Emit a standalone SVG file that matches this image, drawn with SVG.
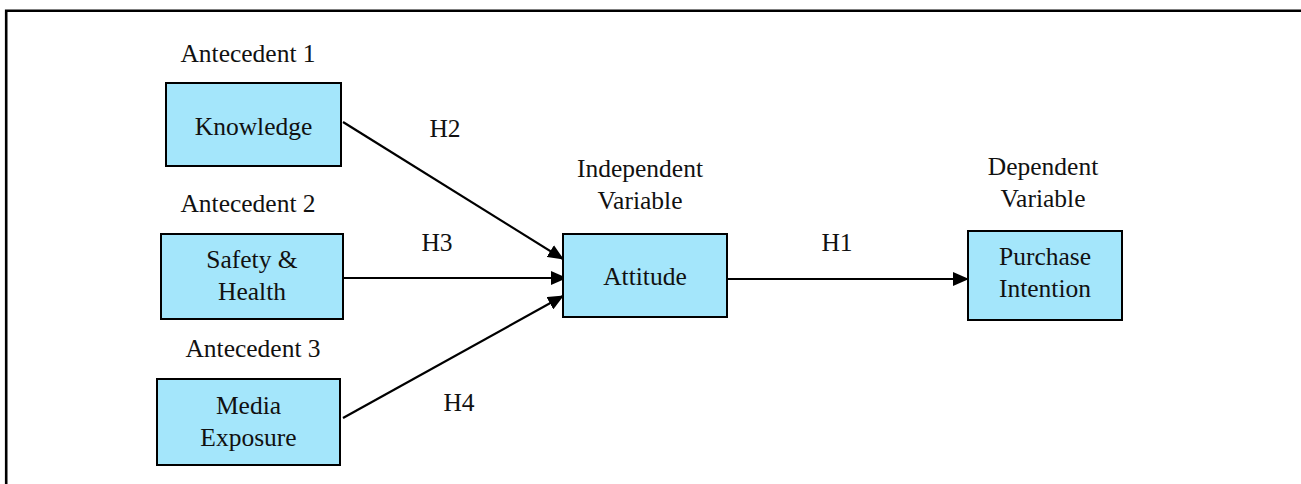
<svg xmlns="http://www.w3.org/2000/svg" width="1301" height="484" viewBox="0 0 1301 484" font-family="Liberation Serif, Times New Roman, serif">
<style>
.box{fill:#A4E6FB;stroke:#000;stroke-width:2}
text{font-family:"Liberation Serif",serif;font-size:25.5px;fill:#111;text-anchor:middle}
.c{stroke:#000;stroke-width:2.2;fill:none;marker-end:url(#ah)}
</style>
<defs>
<marker id="ah" markerUnits="userSpaceOnUse" markerWidth="16" markerHeight="14" refX="15" refY="7" orient="auto">
<path d="M0,0 L16,7 L0,14 z" fill="#000"/>
</marker>
</defs>
<rect width="1301" height="484" fill="#fff"/>
<path d="M6.2,484 V10.7 H1301" fill="none" stroke="#000" stroke-width="2.6"/>
<g id="connectors">
<line class="c" x1="343" y1="122" x2="563" y2="259"/>
<line class="c" x1="342" y1="278" x2="566" y2="278"/>
<line class="c" x1="343" y1="418" x2="563" y2="296"/>
<line class="c" x1="727" y1="279" x2="968" y2="279"/>
<text x="445" y="137">H2</text>
<text x="437" y="251">H3</text>
<text x="459" y="411">H4</text>
<text x="837" y="251">H1</text>
</g>
<g id="knowledge">
<text x="248" y="62">Antecedent 1</text>
<rect class="box" x="166" y="83" width="175" height="83"/>
<text x="253.5" y="135">Knowledge</text>
</g>
<g id="safety">
<text x="248" y="212">Antecedent 2</text>
<rect class="box" x="161" y="234" width="182" height="85"/>
<text x="252" y="268">Safety &amp;</text>
<text x="252" y="300">Health</text>
</g>
<g id="media">
<text x="253" y="357">Antecedent 3</text>
<rect class="box" x="157" y="379" width="183" height="86"/>
<text x="248.5" y="414">Media</text>
<text x="248.5" y="446">Exposure</text>
</g>
<g id="attitude">
<text x="640" y="177">Independent</text>
<text x="640" y="209">Variable</text>
<rect class="box" x="563" y="234" width="164" height="83"/>
<text x="645" y="285">Attitude</text>
</g>
<g id="purchase">
<text x="1043" y="175">Dependent</text>
<text x="1043" y="207">Variable</text>
<rect class="box" x="968" y="231" width="154" height="89"/>
<text x="1045" y="265">Purchase</text>
<text x="1045" y="297">Intention</text>
</g>
</svg>
